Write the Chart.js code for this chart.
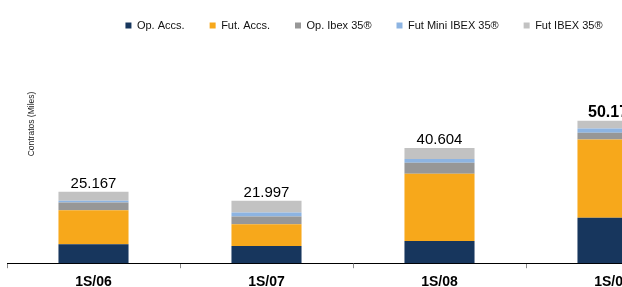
<!DOCTYPE html>
<html>
<head>
<meta charset="utf-8">
<script src="https://cdn.jsdelivr.net/npm/chart.js@4.4.1/dist/chart.umd.min.js"></script>
<style>
html,body{margin:0;padding:0;background:#fff;overflow:hidden;width:622px;height:287px;}
#wrap{position:absolute;left:0;top:0;width:700px;height:287px;}
</style>
</head>
<body>
<div id="wrap"><canvas id="c" width="700" height="287"></canvas></div>
<script>
const categories = ['1S/06', '1S/07', '1S/08', '1S/09'];
const opAccs = [6.7, 6.1, 7.8, 16.0];
const futAccs = [12.0, 7.6, 23.7, 27.6];
const opIbex = [2.7, 2.8, 3.9, 2.4];
const futMini = [0.6, 1.4, 1.3, 1.5];
const futIbex = [3.2, 4.1, 3.9, 2.7];
const totalLabels = ['25.167', '21.997', '40.604', '50.176'];
const seriesNames = ['Op. Accs.', 'Fut. Accs.', 'Op. Ibex 35®', 'Fut Mini IBEX 35®', 'Fut IBEX 35®'];
const yTitle = 'Contratos (Miles)';

const colors = ['#17365D', '#F7A81B', '#979797', '#8DB4E2', '#C2C2C2'];
const seriesData = [opAccs, futAccs, opIbex, futMini, futIbex];

const FONT = "'Liberation Sans', Arial, sans-serif";

const totalsPlugin = {
  id: 'totals',
  afterDatasetsDraw(chart) {
    const ctx = chart.ctx;
    const lastMeta = chart.getDatasetMeta(chart.data.datasets.length - 1);
    ctx.save();
    ctx.fillStyle = '#000';
    ctx.textAlign = 'center';
    ctx.textBaseline = 'alphabetic';
    lastMeta.data.forEach((bar, i) => {
      ctx.font = (i === 3 ? 'bold 16px ' : '15px ') + FONT;
      ctx.fillText(totalLabels[i], bar.x, bar.y - 4);
    });
    ctx.translate(32, 124);
    ctx.rotate(-Math.PI / 2);
    ctx.font = '8.5px ' + FONT;
    ctx.textBaseline = 'middle';
    ctx.fillStyle = '#222';
    ctx.fillText(yTitle, 0, 0);
    ctx.restore();
  }
};

const legendShift = {
  id: 'legendShift',
  afterLayout(chart) {
    const dx = 11;
    chart.legend.left += dx;
    chart.legend.right += dx;
  }
};

new Chart(document.getElementById('c'), {
  type: 'bar',
  data: {
    labels: categories,
    datasets: seriesData.map((d, i) => ({
      label: seriesNames[i],
      data: d,
      backgroundColor: colors[i],
      borderWidth: 0,
      categoryPercentage: 1,
      barPercentage: 0.405
    }))
  },
  options: {
    responsive: false,
    animation: false,
    devicePixelRatio: 1,
    layout: { padding: { left: 7, right: 1, top: -5, bottom: -10 } },
    plugins: {
      legend: {
        position: 'top',
        labels: {
          boxWidth: 6, boxHeight: 6, padding: 25,
          color: '#111',
          font: { family: FONT, size: 11 }
        }
      },
      tooltip: { enabled: false },
      title: { display: false }
    },
    scales: {
      x: {
        stacked: true,
        grid: { display: true, drawOnChartArea: false, drawTicks: true, tickLength: 5, color: '#888', offset: true },
        border: { display: true, color: '#000', width: 1 },
        ticks: { color: '#000', font: { family: FONT, size: 14, weight: 'bold' }, padding: 6 }
      },
      y: {
        stacked: true,
        display: false,
        min: 0,
        max: 78.3
      }
    }
  },
  plugins: [totalsPlugin, legendShift]
});
</script>
</body>
</html>
